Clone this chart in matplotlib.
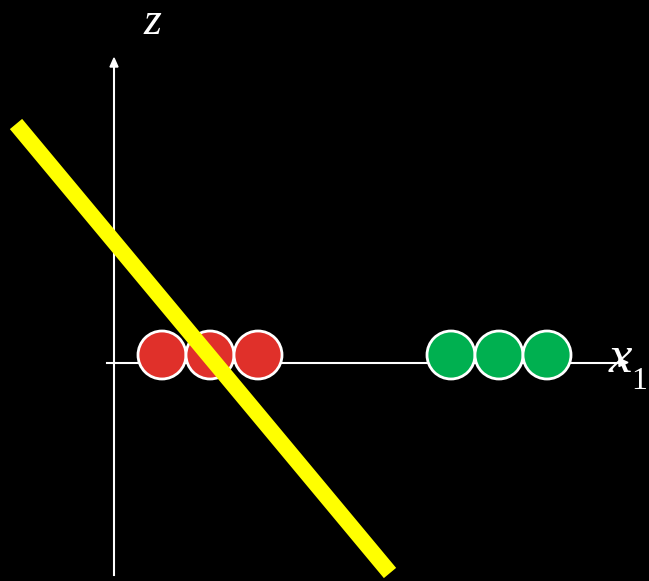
import matplotlib.pyplot as plt
from matplotlib.patches import Circle, FancyArrow

plt.rcParams["mathtext.fontset"] = "custom"
plt.rcParams["mathtext.it"] = "Liberation Serif:italic"
plt.rcParams["mathtext.rm"] = "Liberation Serif"

# circle centres (pixel space of the slide)
red_x = [162, 210, 258]
green_x = [451, 499, 547]
circle_y = 355
radius = 24

# separating line end points
line_x = [16, 390]
line_y = [124, 573]

fig = plt.figure(figsize=(6.49, 5.81), dpi=100, facecolor="black")
ax = fig.add_axes([0, 0, 1, 1])
ax.set_facecolor("black")
ax.set_xlim(0, 649)
ax.set_ylim(581, 0)
ax.axis("off")

# axes
ax.plot([114, 114], [575, 66], color="white", lw=1.5, zorder=1)
ax.add_patch(FancyArrow(114, 68, 0, -1, width=0, head_width=8, head_length=9,
                        color="white", length_includes_head=False, zorder=1))
ax.plot([107, 620], [362.5, 362.5], color="white", lw=1.5, zorder=1)
ax.add_patch(FancyArrow(618, 362.5, 1, 0, width=0, head_width=8, head_length=9,
                        color="white", length_includes_head=False, zorder=1))

for x in red_x:
    ax.add_patch(Circle((x, circle_y), radius, facecolor="#e0302a",
                        edgecolor="white", lw=2, zorder=2))
for x in green_x:
    ax.add_patch(Circle((x, circle_y), radius, facecolor="#00b050",
                        edgecolor="white", lw=2, zorder=2))

ax.plot(line_x, line_y, color="#ffff00", lw=11.5, solid_capstyle="butt", zorder=3)

ax.text(153, 34, "$z$", color="white", fontsize=33,
        ha="center", va="baseline")
ax.text(608, 372, "$x$", color="white", fontsize=38,
        ha="left", va="baseline", zorder=4)
ax.text(631, 389, "1", color="white", fontsize=23,
        family="Liberation Serif", ha="left", va="baseline", zorder=4)

fig.savefig("out.png", dpi=100, facecolor="black")
